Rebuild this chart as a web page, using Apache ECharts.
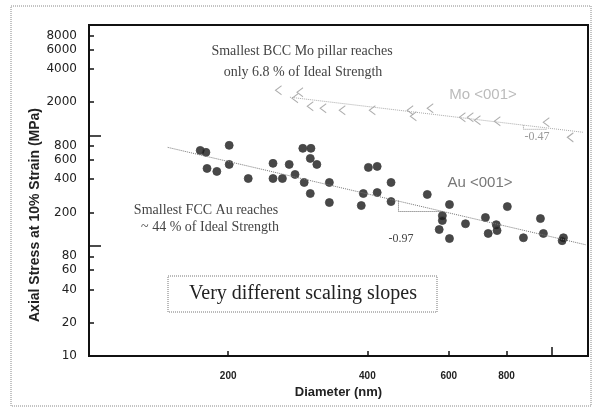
<!DOCTYPE html>
<html>
<head>
<meta charset="utf-8">
<script src="https://cdn.jsdelivr.net/npm/echarts@6/dist/echarts.min.js"></script>
<style>
    html, body {margin: 0; padding: 0; background: #fff;}
    #main {width: 592px; height: 407px;}
</style>
</head>
<body>
<div id="main"></div>
<script>
//tick labels (log axes)
var xTickLabels = [200, 400, 600, 800];
var xMajorTicks = [1000];
var yTickLabels = [10, 20, 40, 60, 80, 200, 400, 600, 800, 2000, 4000, 6000, 8000];
var yMajorTicks = [100, 1000];

//Au <001> pillars: [diameter nm, stress MPa]
var auData = [
    [174, 730], [179, 701], [201, 811], [180, 501], [189, 471], [201, 545],
    [221, 406], [250, 557], [250, 406], [262, 406], [271, 545], [290, 762],
    [302, 762], [301, 618], [311, 545], [279, 442], [292, 374], [301, 297],
    [331, 374], [331, 246], [388, 231], [392, 297], [402, 512], [420, 523],
    [420, 303], [450, 374], [450, 251], [539, 291], [602, 236], [581, 187],
    [581, 169], [572, 140], [602, 116], [652, 158], [720, 180], [760, 155],
    [763, 137], [730, 129], [803, 226], [870, 118], [947, 176], [961, 129],
    [1062, 118], [1055, 111]
];
//Mo <001> pillars
var moData = [
    [257, 2564], [286, 2460], [279, 2170], [301, 1835], [321, 1759], [353, 1687],
    [410, 1687], [495, 1687], [503, 1488], [547, 1759], [642, 1457], [668, 1457],
    [692, 1368], [764, 1341], [975, 1314], [1099, 959]
];
//fit lines and slope triangles
var auFit = [[148, 778], [1185, 102]];
var moFit = [[272, 2215], [1173, 1065]];
var auSlope = [[467, 256], [467, 204], [584, 204]];
var moSlope = [[870, 1233], [870, 1134], [980, 1134]];

var log10 = function (v) {
    return Math.log10(v);
};
var pow10 = function (v) {
    return Math.round(Math.pow(10, v));
};

var X_MIN = 100, X_MAX = 1200, Y_MIN = 10, Y_MAX = 10000;

var myChart = echarts.init(document.getElementById('main'));

var serif = 'Liberation Serif';
var txt = function (str, x, y, size, color, family) {
    return {
        type: 'text',
        x: x,
        y: y,
        silent: true,
        style: {
            text: str,
            x: 0,
            y: 0,
            align: 'center',
            verticalAlign: 'middle',
            textAlign: 'center',
            textVerticalAlign: 'middle',
            font: size + 'px "' + (family || serif) + '"',
            fill: color
        }
    };
};

var tickLine = {color: '#111', width: 1.5};

var option = {
    animation: false,
    backgroundColor: '#fff',
    grid: {
        left: 89, top: 25, right: 4, bottom: 51,
        show: true, borderColor: '#111', borderWidth: 2, backgroundColor: 'transparent'
    },
    xAxis: [
        {
            //data axis
            type: 'log', logBase: 10, min: X_MIN, max: X_MAX,
            axisLine: {show: false}, axisTick: {show: false},
            axisLabel: {show: false}, splitLine: {show: false}
        },
        {
            //labels, in log10 space
            type: 'value', position: 'bottom', min: log10(X_MIN), max: log10(X_MAX),
            axisLine: {show: true, onZero: false, lineStyle: {color: '#111', width: 2}},
            axisTick: {show: true, inside: true, length: 5, customValues: xTickLabels.map(log10),
                lineStyle: tickLine},
            axisLabel: {show: true, customValues: xTickLabels.map(log10), formatter: pow10,
                margin: 15, color: '#222', fontSize: 10, fontWeight: 'bold', fontFamily: 'Liberation Sans'},
            splitLine: {show: false},
            name: 'Diameter (nm)', nameLocation: 'middle', nameGap: 21,
            nameTextStyle: {color: '#222', fontSize: 13, fontWeight: 'bold', fontFamily: 'Liberation Sans'}
        },
        {
            type: 'value', position: 'bottom', min: log10(X_MIN), max: log10(X_MAX),
            axisLine: {show: false, onZero: false},
            axisTick: {show: true, inside: true, length: 9, customValues: xMajorTicks.map(log10),
                lineStyle: tickLine},
            axisLabel: {show: false}, splitLine: {show: false}
        }
    ],
    yAxis: [
        {
            type: 'log', logBase: 10, min: Y_MIN, max: Y_MAX,
            axisLine: {show: false}, axisTick: {show: false},
            axisLabel: {show: false}, splitLine: {show: false}
        },
        {
            type: 'value', position: 'left', min: log10(Y_MIN), max: log10(Y_MAX),
            axisLine: {show: true, onZero: false, lineStyle: {color: '#111', width: 2}},
            axisTick: {show: true, inside: true, length: 5, customValues: yTickLabels.map(log10),
                lineStyle: tickLine},
            axisLabel: {show: true, customValues: yTickLabels.map(log10), formatter: pow10,
                margin: 12, color: '#222', fontSize: 12, fontFamily: 'DejaVu Sans'},
            splitLine: {show: false}
        },
        {
            type: 'value', position: 'left', min: log10(Y_MIN), max: log10(Y_MAX),
            axisLine: {show: false, onZero: false},
            axisTick: {show: true, inside: true, length: 12, customValues: yMajorTicks.map(log10),
                lineStyle: tickLine},
            axisLabel: {show: false}, splitLine: {show: false}
        }
    ],
    series: [
        {
            name: 'Au fit', type: 'line', data: auFit, symbol: 'none',
            lineStyle: {color: '#777', width: 1, type: 'dotted'}
        },
        {
            name: 'Mo fit', type: 'line', data: moFit, symbol: 'none',
            lineStyle: {color: '#aaa', width: 1, type: 'dotted'}
        },
        {
            name: 'Au slope', type: 'line', data: auSlope, symbol: 'none',
            lineStyle: {color: '#666', width: 1, type: 'dotted'}
        },
        {
            name: 'Mo slope', type: 'line', data: moSlope, symbol: 'none',
            lineStyle: {color: '#999', width: 1, type: 'dotted'}
        },
        {
            name: 'Mo <001>', type: 'scatter', data: moData,
            symbol: 'path://M10,0 L0,6 L10,12', symbolSize: [6, 9],
            itemStyle: {color: 'rgba(0,0,0,0)', borderColor: '#999', borderWidth: 1}
        },
        {
            name: 'Au <001>', type: 'scatter', data: auData,
            symbol: 'circle', symbolSize: 8,
            itemStyle: {color: '#1a1a1a', borderColor: '#444', borderWidth: 1}
        }
    ],
    graphic: [
        //outer dotted frame
        {
            type: 'rect', silent: true,
            shape: {x: 11, y: 6, width: 580, height: 400},
            style: {fill: 'none', stroke: '#888', lineWidth: 1, lineDash: [1, 1]}
        },
        //y axis title
        {
            type: 'text', x: 35, y: 215, rotation: Math.PI / 2, silent: true,
            style: {
                text: 'Axial Stress at 10% Strain (MPa)', x: 0, y: 0,
                align: 'center', verticalAlign: 'middle',
                textAlign: 'center', textVerticalAlign: 'middle',
                font: 'bold 14px "Liberation Sans"', fill: '#222'
            }
        },
        txt('Smallest BCC Mo pillar reaches', 302, 51, 14, '#444'),
        txt('only 6.8 % of Ideal Strength', 303, 72, 14, '#444'),
        txt('Smallest FCC Au reaches', 206, 210, 14, '#444'),
        txt('~ 44 % of Ideal Strength', 210, 227, 14, '#444'),
        txt('-0.47', 537, 137, 12, '#999'),
        txt('-0.97', 401, 239, 12, '#444'),
        txt('Au <001>', 480, 183, 15, '#777', 'Liberation Sans'),
        txt('Mo <001>', 483, 95, 15, '#bbb', 'Liberation Sans'),
        //boxed remark
        {
            type: 'rect', silent: true,
            shape: {x: 168, y: 276, width: 269, height: 36},
            style: {fill: '#fff', stroke: '#777', lineWidth: 1, lineDash: [1, 1]}
        },
        txt('Very different scaling slopes', 303, 294, 20, '#222')
    ]
};

myChart.setOption(option);
</script>
</body>
</html>
